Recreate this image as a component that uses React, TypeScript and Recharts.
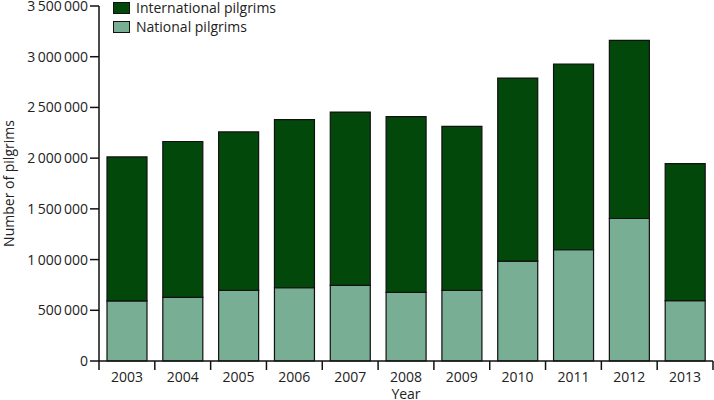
import React from 'react';
import { BarChart, Bar, XAxis, YAxis } from 'recharts';

const years = ['2003', '2004', '2005', '2006', '2007', '2008', '2009', '2010', '2011', '2012', '2013'];
const national = [592000, 627000, 697000, 722000, 745000, 676000, 697000, 985000, 1097000, 1405000, 595000];
const international = [1420000, 1537000, 1561000, 1657000, 1709000, 1733000, 1616000, 1804000, 1831000, 1757000, 1350000];
const yTicks = [0, 500000, 1000000, 1500000, 2000000, 2500000, 3000000, 3500000];

const seriesNames = ['International pilgrims', 'National pilgrims'];
const seriesColors = ['#03480b', '#77ae94'];

const FONT = '"Open Sans", "DejaVu Sans", sans-serif';
const W = 714;
const H = 400;
const M = { top: 6, right: 1, left: 0, bottom: 0 };
const Y_W = 99;
const X_H = 39;

const data = years.map((y, i) => ({ year: y, national: national[i], international: international[i] }));

const fmt = (v: number) => String(v).replace(/\B(?=(\d{3})+(?!\d))/g, '\u2009');

const band = (W - M.left - M.right - Y_W) / years.length;

const XTick = (props: any) => {
  const { x, y, payload, index } = props;
  const isLast = index === years.length - 1;
  return (
    <g>
      <line x1={x - band / 2} x2={x - band / 2} y1={y} y2={y + 9} stroke="#111" strokeWidth={1.5} />
      {isLast && <line x1={x + band / 2} x2={x + band / 2} y1={y} y2={y + 9} stroke="#111" strokeWidth={1.5} />}
      <text x={x} y={y + 21} textAnchor="middle" fontSize={14} fill="#222" fontFamily={FONT}>
        {payload.value}
      </text>
    </g>
  );
};

const LegendBox = () => (
  <div
    style={{
      position: 'absolute',
      left: 113,
      top: -2,
      fontFamily: FONT,
      fontSize: 14,
      color: '#222',
      lineHeight: '19px',
    }}
  >
    {seriesNames.map((n, i) => (
      <div key={n} style={{ display: 'flex', alignItems: 'center' }}>
        <span
          style={{
            display: 'inline-block',
            width: 15,
            height: 10,
            background: seriesColors[i],
            border: '1px solid #111',
            marginRight: 6,
          }}
        />
        <span>{n}</span>
      </div>
    ))}
  </div>
);

const YLabel = () => (
  <text
    transform={`translate(14, ${(M.top + (H - X_H)) / 2}) rotate(-90)`}
    textAnchor="middle"
    fontSize={14}
    fill="#222"
    fontFamily={FONT}
  >
    Number of pilgrims
  </text>
);

export default function App() {
  return (
    <div style={{ position: 'absolute', left: 0, top: 0, width: W, height: H, background: '#fff' }}>
      <BarChart width={W} height={H} data={data} margin={M} barSize={40}>
        <XAxis
          dataKey="year"
          height={X_H}
          tickLine={false}
          tickSize={0}
          tickMargin={0}
          tick={<XTick />}
          axisLine={{ stroke: '#111', strokeWidth: 1.5 }}
          interval={0}
          label={{ value: 'Year', position: 'insideBottom', offset: 1, fontSize: 14, fill: '#222', fontFamily: FONT }}
        />
        <YAxis
          width={Y_W}
          domain={[0, 3500000]}
          ticks={yTicks}
          tickFormatter={fmt}
          tickSize={9}
          tickMargin={2}
          interval={0}
          tick={{ fontSize: 14, fill: '#222', fontFamily: FONT }}
          tickLine={{ stroke: '#111', strokeWidth: 1.5 }}
          axisLine={{ stroke: '#111', strokeWidth: 1.5 }}
          label={<YLabel />}
        />
        <Bar dataKey="national" stackId="a" name={seriesNames[1]} fill={seriesColors[1]} stroke="#111" strokeWidth={1.2} isAnimationActive={false} />
        <Bar dataKey="international" stackId="a" name={seriesNames[0]} fill={seriesColors[0]} stroke="#111" strokeWidth={1.2} isAnimationActive={false} />
      </BarChart>
      <LegendBox />
    </div>
  );
}
